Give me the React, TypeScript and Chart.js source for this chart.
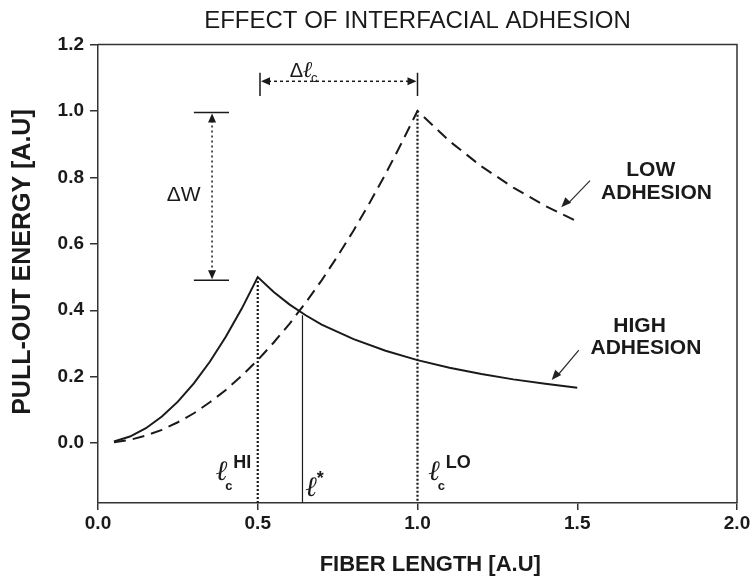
import { useEffect, useRef } from "react";
import { Chart, registerables } from "chart.js";

Chart.register(...registerables);

// ---- data ----
const highLength = [0.05, 0.1, 0.15, 0.2, 0.25, 0.3, 0.35, 0.4, 0.45, 0.5, 0.55, 0.6, 0.65, 0.7, 0.8, 0.9, 1.0, 1.1, 1.2, 1.3, 1.4, 1.5];
const highEnergy = [0.005, 0.02, 0.045, 0.08, 0.125, 0.18, 0.245, 0.32, 0.405, 0.5, 0.455, 0.417, 0.385, 0.357, 0.313, 0.278, 0.25, 0.227, 0.208, 0.192, 0.179, 0.167];
const lowLength = [0.05, 0.1, 0.15, 0.2, 0.25, 0.3, 0.35, 0.4, 0.45, 0.5, 0.55, 0.6, 0.65, 0.7, 0.75, 0.8, 0.85, 0.9, 0.95, 1.0, 1.1, 1.2, 1.3, 1.4, 1.5];
const lowEnergy = [0.003, 0.01, 0.023, 0.04, 0.063, 0.09, 0.123, 0.16, 0.203, 0.25, 0.303, 0.36, 0.423, 0.49, 0.563, 0.64, 0.723, 0.81, 0.903, 1.0, 0.909, 0.833, 0.769, 0.714, 0.667];

const xTicks = [0, 0.5, 1.0, 1.5, 2.0];
const yTicks = [0, 0.2, 0.4, 0.6, 0.8, 1.0, 1.2];

const chartTitle = "EFFECT OF INTERFACIAL ADHESION";
const xTitle = "FIBER LENGTH [A.U]";
const yTitle = "PULL-OUT ENERGY [A.U]";
const lowLabel = ["LOW", "ADHESION"];
const highLabel = ["HIGH", "ADHESION"];

// characteristic lengths / energies
const criticalHigh = 0.5;
const criticalHighEnergy = 0.5;
const criticalLow = 1.0;
const criticalLowEnergy = 1.0;
const crossover = 0.64;
const crossoverEnergy = 0.385;

const FONT = '"Liberation Sans", Arial, sans-serif';
const INK = "#1a1a1a";

function arrowHead(ctx: CanvasRenderingContext2D, x: number, y: number, angle: number, len: number, half: number) {
  ctx.save();
  ctx.translate(x, y);
  ctx.rotate(angle);
  ctx.beginPath();
  ctx.moveTo(0, 0);
  ctx.lineTo(-len, -half);
  ctx.lineTo(-len, half);
  ctx.closePath();
  ctx.fill();
  ctx.restore();
}

function ellLabel(ctx: CanvasRenderingContext2D, x: number, y: number, sub: string, sup: string) {
  ctx.save();
  ctx.fillStyle = INK;
  ctx.textBaseline = "alphabetic";
  ctx.textAlign = "left";
  ctx.font = `bold italic 28px "DejaVu Serif", serif`;
  ctx.fillText("ℓ", x, y);
  const w = ctx.measureText("ℓ").width;
  if (sub) {
    ctx.font = `bold 13px ${FONT}`;
    ctx.fillText(sub, x + w - 3, y + 10);
  }
  if (sup) {
    ctx.font = `bold 18px ${FONT}`;
    ctx.fillText(sup, x + w + (sub ? 5 : -1), y - 12);
  }
  ctx.restore();
}

const annotations = {
  id: "annotations",
  afterDraw(chart: any) {
    const { ctx, chartArea } = chart;
    const sx = chart.scales.x;
    const sy = chart.scales.y;
    const px = (v: number) => sx.getPixelForValue(v);
    const py = (v: number) => sy.getPixelForValue(v);
    const bottom = chartArea.bottom;

    ctx.save();
    // box top/right
    ctx.strokeStyle = "#333";
    ctx.lineWidth = 1.5;
    ctx.beginPath();
    ctx.moveTo(chartArea.left, chartArea.top);
    ctx.lineTo(chartArea.right, chartArea.top);
    ctx.lineTo(chartArea.right, chartArea.bottom);
    ctx.stroke();

    // axis titles
    ctx.fillStyle = INK;
    ctx.textAlign = "center";
    ctx.textBaseline = "middle";
    ctx.font = `bold 22px ${FONT}`;
    ctx.fillText(xTitle, px(1.04), 565);
    ctx.save();
    ctx.translate(23, py(0.545));
    ctx.rotate(-Math.PI / 2);
    ctx.font = `bold 25px ${FONT}`;
    ctx.fillText(yTitle, 0, 0);
    ctx.restore();

    // dotted verticals at critical lengths
    ctx.strokeStyle = INK;
    ctx.lineWidth = 2.2;
    ctx.setLineDash([2, 2]);
    ctx.beginPath();
    ctx.moveTo(px(criticalHigh), py(criticalHighEnergy));
    ctx.lineTo(px(criticalHigh), bottom);
    ctx.moveTo(px(criticalLow), py(criticalLowEnergy));
    ctx.lineTo(px(criticalLow), bottom);
    ctx.stroke();

    // crossover solid line
    ctx.setLineDash([]);
    ctx.lineWidth = 1.2;
    ctx.beginPath();
    ctx.moveTo(px(crossover), py(crossoverEnergy));
    ctx.lineTo(px(crossover), bottom);
    ctx.stroke();

    // Delta W dimension
    const wx = px(0.357);
    const wTop = py(0.995);
    const wBot = py(0.49);
    ctx.lineWidth = 1.5;
    ctx.beginPath();
    ctx.moveTo(px(0.30), wTop);
    ctx.lineTo(px(0.41), wTop);
    ctx.moveTo(px(0.30), wBot);
    ctx.lineTo(px(0.41), wBot);
    ctx.stroke();
    ctx.setLineDash([2, 3]);
    ctx.beginPath();
    ctx.moveTo(wx, wTop + 8);
    ctx.lineTo(wx, wBot - 8);
    ctx.stroke();
    ctx.setLineDash([]);
    ctx.fillStyle = INK;
    arrowHead(ctx, wx, wTop + 1, -Math.PI / 2, 9, 4);
    arrowHead(ctx, wx, wBot - 1, Math.PI / 2, 9, 4);

    // Delta lc dimension
    const ly = py(1.089);
    const lLeft = px(0.507);
    const lRight = px(1.0);
    ctx.lineWidth = 1.5;
    ctx.beginPath();
    ctx.moveTo(lLeft, py(1.115));
    ctx.lineTo(lLeft, py(1.045));
    ctx.moveTo(lRight, py(1.115));
    ctx.lineTo(lRight, py(1.045));
    ctx.stroke();
    ctx.setLineDash([3, 3]);
    ctx.beginPath();
    ctx.moveTo(lLeft + 8, ly);
    ctx.lineTo(lRight - 8, ly);
    ctx.stroke();
    ctx.setLineDash([]);
    arrowHead(ctx, lLeft + 1, ly, Math.PI, 9, 4);
    arrowHead(ctx, lRight - 1, ly, 0, 9, 4);

    // labels for dimensions
    ctx.fillStyle = INK;
    ctx.textBaseline = "middle";
    ctx.textAlign = "center";
    ctx.font = `21px ${FONT}`;
    ctx.fillText("ΔW", px(0.268), py(0.745));
    ctx.textAlign = "left";
    ctx.font = `20px ${FONT}`;
    const dX = px(0.6);
    ctx.fillText("Δ", dX, py(1.12));
    const dw = ctx.measureText("Δ").width;
    ctx.font = `bold italic 23px "DejaVu Serif", serif`;
    ctx.fillText("ℓ", dX + dw, py(1.12));
    const ew = ctx.measureText("ℓ").width;
    ctx.font = `13px ${FONT}`;
    ctx.fillText("c", dX + dw + ew - 2, py(1.098));

    // curve labels
    ctx.textAlign = "center";
    ctx.font = `bold 21px ${FONT}`;
    ctx.fillText(lowLabel[0], px(1.73), py(0.82));
    ctx.fillText(lowLabel[1], px(1.748), py(0.752));
    ctx.fillText(highLabel[0], px(1.695), py(0.353));
    ctx.fillText(highLabel[1], px(1.715), py(0.285));

    // curve label arrows
    ctx.lineWidth = 1.3;
    ctx.strokeStyle = "#333";
    ctx.fillStyle = "#222";
    ctx.beginPath();
    ctx.moveTo(px(1.54), py(0.79));
    ctx.lineTo(px(1.47), py(0.72));
    ctx.moveTo(px(1.505), py(0.28));
    ctx.lineTo(px(1.435), py(0.2));
    ctx.stroke();
    const a1 = Math.atan2(py(0.71) - py(0.79), px(1.46) - px(1.54));
    arrowHead(ctx, px(1.45), py(0.71), a1, 10, 4);
    const a2 = Math.atan2(py(0.19) - py(0.28), px(1.425) - px(1.505));
    arrowHead(ctx, px(1.42), py(0.19), a2, 10, 4);

    // length labels
    ellLabel(ctx, px(0.37), py(-0.11), "c", "HI");
    ellLabel(ctx, px(0.65), py(-0.16), "", "*");
    ellLabel(ctx, px(1.035), py(-0.11), "c", "LO");

    ctx.restore();
  },
};

export default function App() {
  const ref = useRef<HTMLCanvasElement | null>(null);
  useEffect(() => {
    if (!ref.current) return;
    const chart = new Chart(ref.current, {
      type: "line",
      data: {
        datasets: [
          {
            label: "High adhesion",
            data: highLength.map((x, i) => ({ x, y: highEnergy[i] })),
            borderColor: INK,
            borderWidth: 2,
            pointRadius: 0,
            tension: 0,
            fill: false,
          },
          {
            label: "Low adhesion",
            data: lowLength.map((x, i) => ({ x, y: lowEnergy[i] })),
            borderColor: INK,
            borderWidth: 2,
            borderDash: [12, 7],
            pointRadius: 0,
            tension: 0,
            fill: false,
          },
        ],
      },
      options: {
        animation: false,
        responsive: false,
        devicePixelRatio: 1,
        layout: { padding: { left: 0, right: 18, top: 0, bottom: 0 } },
        plugins: {
          legend: { display: false },
          tooltip: { enabled: false },
          title: {
            display: true,
            text: chartTitle,
            fullSize: false,
            color: INK,
            font: { family: FONT, size: 24, weight: "normal", lineHeight: 1.1 },
            padding: { top: 8, bottom: 10 },
          },
        },
        scales: {
          x: {
            type: "linear",
            min: 0,
            max: 2,
            afterBuildTicks: (s: any) => {
              s.ticks = xTicks.map((v) => ({ value: v }));
            },
            afterFit: (s: any) => {
              s.height = 80;
            },
            ticks: {
              callback: (v: any) => Number(v).toFixed(1),
              color: INK,
              font: { family: FONT, size: 19, weight: "bold" },
              padding: 2,
              maxRotation: 0,
              autoSkip: false,
            },
            grid: { display: true, drawOnChartArea: false, drawTicks: true, tickLength: 7, color: "#333", lineWidth: 1.5 },
            border: { display: true, color: "#333", width: 1.5 },
            title: { display: false, text: xTitle },
          },
          y: {
            type: "linear",
            min: -0.18,
            max: 1.2,
            afterBuildTicks: (s: any) => {
              s.ticks = yTicks.map((v) => ({ value: v }));
            },
            afterFit: (s: any) => {
              s.width = 98;
            },
            ticks: {
              callback: (v: any) => Number(v).toFixed(1),
              color: INK,
              font: { family: FONT, size: 19, weight: "bold" },
              padding: 6,
              autoSkip: false,
            },
            grid: { display: true, drawOnChartArea: false, drawTicks: true, tickLength: 8, color: "#333", lineWidth: 1.5 },
            border: { display: true, color: "#333", width: 1.5 },
            title: { display: false, text: yTitle },
          },
        },
      },
      plugins: [annotations],
    } as any);
    return () => chart.destroy();
  }, []);
  return (
    <div style={{ position: "fixed", left: 0, top: 0, width: 755, height: 583, background: "#fff" }}>
      <canvas ref={ref} width={755} height={583} style={{ width: 755, height: 583, display: "block" }} />
    </div>
  );
}
